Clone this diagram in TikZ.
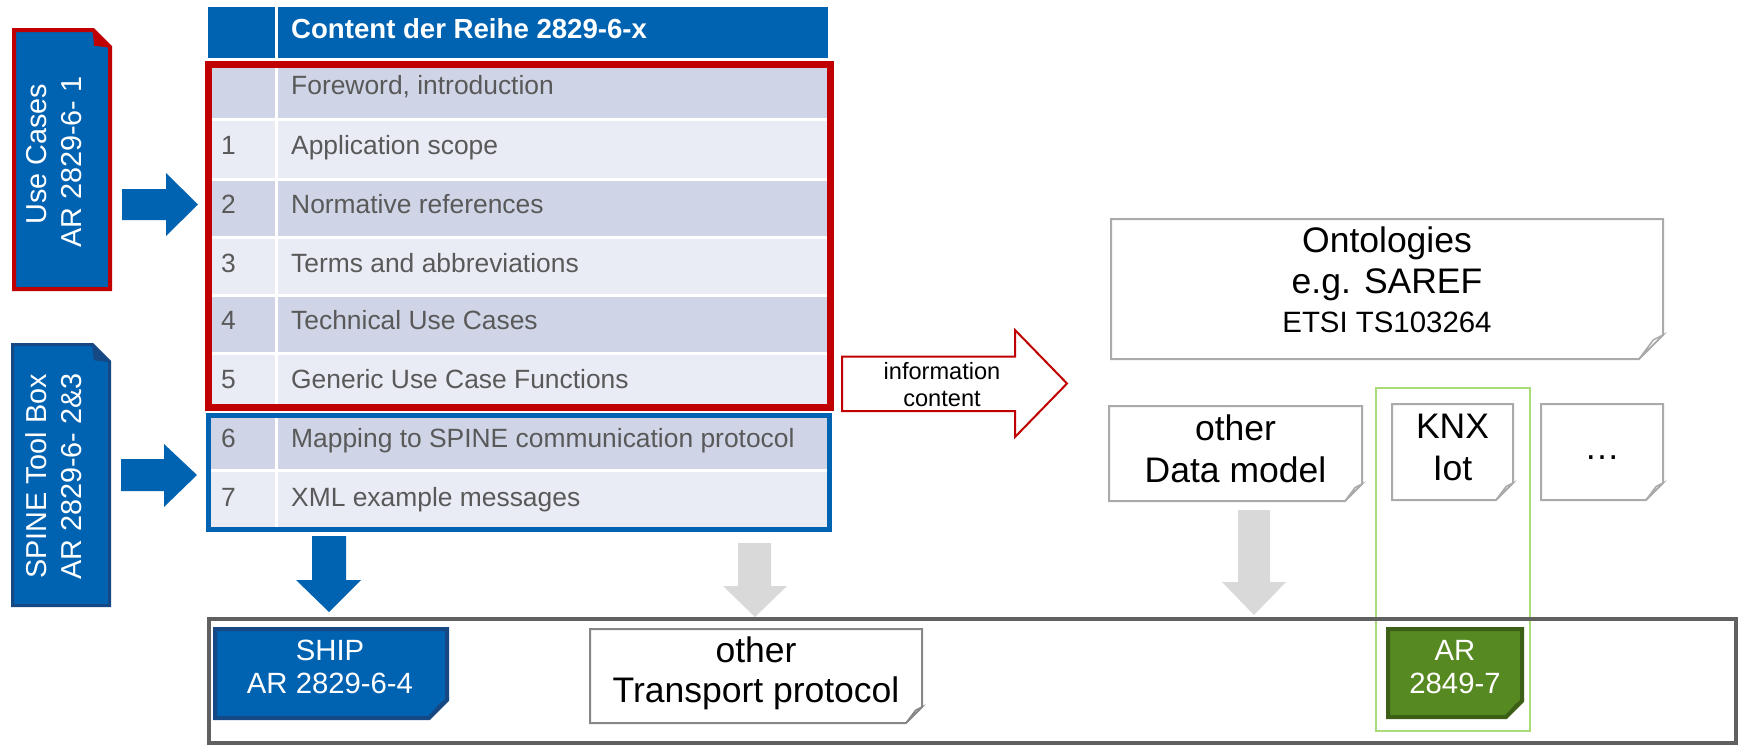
\documentclass[tikz,border=0pt]{standalone}
\usepackage{fontspec}
\setmainfont{Liberation Sans}
\definecolor{cblue}{RGB}{0,99,178}
\definecolor{cdblue}{RGB}{22,72,132}
\definecolor{cred}{RGB}{192,0,0}
\definecolor{rowdark}{RGB}{207,213,230}
\definecolor{rowlight}{RGB}{233,236,245}
\definecolor{tgray}{RGB}{89,89,89}
\definecolor{agray}{RGB}{217,217,217}
\definecolor{bgray}{RGB}{170,170,170}
\definecolor{tbgray}{RGB}{135,135,135}
\definecolor{fgray}{RGB}{96,96,96}
\definecolor{cgreen}{RGB}{87,137,34}
\definecolor{cdgreen}{RGB}{60,95,22}
\definecolor{lgreen}{RGB}{169,219,120}
\newcommand\fbig{\fontsize{35.5}{41}\selectfont}
\newcommand\fbigb{\fontsize{35.5}{42}\selectfont}
\newcommand\fbigc{\fontsize{35.5}{40}\selectfont}
\newcommand\fmid{\fontsize{29.3}{33}\selectfont}
\newcommand\fside{\fontsize{28.8}{35}\selectfont}
\newcommand\fetsi{\fontsize{29.4}{34}\selectfont}
\newcommand\ftab{\fontsize{26.4}{31}\selectfont}
\newcommand\fhead{\fontsize{27.6}{31}\selectfont}
\newcommand\fsmall{\fontsize{23.6}{27}\selectfont}
% note with folded bottom-right corner: x1 y1 x2 y2 c style
\newcommand\notebr[6]{\draw[#6] (#1,#2) -- (#3,#2) -- (#3,#4-#5) -- (#3-#5,#4) -- (#1,#4) -- cycle;}
\newcommand\foldbr[6]{\draw[#6] (#3,#4-#5) -- (#3-#5,#4) -- (#3-0.4*#5,#4-0.8*#5) -- cycle;}
% note with folded top-right corner
\newcommand\notetr[6]{\draw[#6] (#1,#2) -- (#3-#5,#2) -- (#3,#2+#5) -- (#3,#4) -- (#1,#4) -- cycle;}
\newcommand\foldtr[6]{\draw[#6] (#3-#5,#2) -- (#3,#2+#5) -- (#3-0.9*#5,#2+0.9*#5) -- cycle;}
\tikzset{
  txt/.style={inner sep=0pt, align=center},
  rowtxt/.style={anchor=base west, inner sep=0pt, text=tgray, font=\ftab},
  sep/.style={white, line width=3},
}
\begin{document}
\begin{tikzpicture}[x=1pt,y=-1pt,line join=miter]
\useasboundingbox (0,0) rectangle (1739,745);

% ---------- left side notes ----------
\notetr{14}{30}{110}{289}{17}{fill=cblue, draw=cred, line width=4}
\foldtr{14}{30}{110}{289}{17}{fill=cred, draw=cred, line width=1}
\node[txt, rotate=90, text=white, font=\fside] (uc) at (57.4,162) {\strut\hspace*{16pt}Use Cases\\\strut AR 2829-6- 1};

\notetr{12.5}{344.5}{109.5}{605.5}{17}{fill=cblue, draw=cdblue, line width=3}
\foldtr{12.5}{344.5}{109.5}{605.5}{17}{fill=cdblue, draw=cdblue, line width=1}
\node[txt, rotate=90, text=white, font=\fside] (spine) at (57.4,476.5) {\strut SPINE Tool Box\\\strut AR 2829-6- 2\&3};

% blue block arrows to the table
\fill[cblue] (122,189) -- (166,189) -- (166,173) -- (198,204.5) -- (166,236) -- (166,220) -- (122,220) -- cycle;
\fill[cblue] (121,459) -- (164,459) -- (164,444) -- (197,475) -- (164,507) -- (164,491) -- (121,491) -- cycle;

% ---------- table ----------
\fill[cblue] (207.5,6.5) rectangle (828,58);
\draw[sep, line width=3.5] (276.5,6.5) -- (276.5,58);
\node[anchor=base west, inner sep=0pt, text=white, font=\fhead\bfseries] (hd) at (291,38.6) {Content der Reihe 2829-6-x};

\fill[rowdark]  (208.5,64.5) rectangle (830.5,119);
\fill[rowlight] (208.5,119) rectangle (830.5,179);
\fill[rowdark]  (208.5,179) rectangle (830.5,237);
\fill[rowlight] (208.5,237) rectangle (830.5,295);
\fill[rowdark]  (208.5,295) rectangle (830.5,353);
\fill[rowlight] (208.5,353) rectangle (830.5,407.5);
\foreach \yy in {119,179,237,295,353} \draw[sep] (208.5,\yy) -- (830.5,\yy);
\draw[sep] (276.5,64.5) -- (276.5,407.5);
\draw[cred, line width=7] (208.5,64.5) rectangle (830.5,407.5);

\fill[rowdark]  (208.5,415.5) rectangle (829.5,470);
\fill[rowlight] (208.5,470) rectangle (829.5,529.5);
\draw[sep] (208.5,470) -- (829.5,470);
\draw[sep] (276.5,415.5) -- (276.5,529.5);
\draw[cblue, line width=5] (208.5,415.5) rectangle (829.5,529.5);

\node[rowtxt] (t0) at (291,94.5) {Foreword, introduction};
\node[rowtxt] (n1) at (221,154.5) {1};
\node[rowtxt] (t1) at (291,154.5) {Application scope};
\node[rowtxt] (n2) at (221,213.5) {2};
\node[rowtxt] (t2) at (291,213.5) {Normative references};
\node[rowtxt] (n3) at (221,272.5) {3};
\node[rowtxt] (t3) at (291,272.5) {Terms and abbreviations};
\node[rowtxt] (n4) at (221,329.5) {4};
\node[rowtxt] (t4) at (291,329.5) {Technical Use Cases};
\node[rowtxt] (n5) at (221,388.5) {5};
\node[rowtxt] (t5) at (291,388.5) {Generic Use Case Functions};
\node[rowtxt] (n6) at (221,447.5) {6};
\node[rowtxt] (t6) at (291,447.5) {Mapping to SPINE communication protocol};
\node[rowtxt] (n7) at (221,506.5) {7};
\node[rowtxt] (t7) at (291,506.5) {XML example messages};

% ---------- information content arrow ----------
\draw[cred, fill=white, line width=2] (842,356.5) -- (1015,356.5) -- (1015,330) -- (1067,383.5) -- (1015,437) -- (1015,411) -- (842,411) -- cycle;
\node[txt, font=\fsmall] (info) at (942,387.5) {\strut information\\\strut content};

% ---------- right side notes ----------
\draw[lgreen, line width=2] (1376,388) rectangle (1530,731);

\notebr{1111}{219}{1663}{359}{24}{fill=white, draw=bgray, line width=2}
\foldbr{1111}{219}{1663}{359}{24}{fill=white, draw=bgray, line width=1.5}
\node[txt, font=\fbig] (onto) at (1387,265) {\strut Ontologies\\\strut e.g. SAREF};
\node[anchor=base, inner sep=0pt, font=\fetsi] (etsi) at (1387,332) {ETSI TS103264};

\notebr{1109}{406}{1362}{501}{17}{fill=white, draw=bgray, line width=2}
\foldbr{1109}{406}{1362}{501}{17}{fill=white, draw=bgray, line width=1.5}
\node[txt, font=\fbigb] (odm) at (1235.5,453) {\strut other\\\strut Data model};

\notebr{1392}{404}{1513}{500}{17}{fill=white, draw=bgray, line width=2}
\foldbr{1392}{404}{1513}{500}{17}{fill=white, draw=bgray, line width=1.5}
\node[txt, font=\fbigb] (knx) at (1452.5,451.5) {\strut KNX\\\strut Iot};

\notebr{1541}{404}{1663}{500}{17}{fill=white, draw=bgray, line width=2}
\foldbr{1541}{404}{1663}{500}{17}{fill=white, draw=bgray, line width=1.5}
\node[anchor=base, inner sep=0pt, font=\fbig] (dots) at (1602,459) {…};

% ---------- down arrows ----------
\fill[cblue] (312,536) -- (346,536) -- (346,580) -- (361,580) -- (329,612) -- (296,580) -- (312,580) -- cycle;
\fill[agray] (738,543) -- (771,543) -- (771,586) -- (787,586) -- (755,617) -- (723,586) -- (738,586) -- cycle;
\fill[agray] (1238,510) -- (1270,510) -- (1270,582) -- (1286,582) -- (1254,615) -- (1222,582) -- (1238,582) -- cycle;

% ---------- bottom frame ----------
\draw[fgray, line width=3.5] (209,619) rectangle (1736,743);

\notebr{215}{629}{447}{718}{18}{fill=cblue, draw=cdblue, line width=4}
\foldbr{215}{629}{447}{718}{18}{fill=cdblue, draw=cdblue, line width=1}
\node[txt, text=white, font=\fmid] (ship) at (330,670.4) {\strut SHIP\\\strut AR 2829-6-4};

\notebr{590}{629}{922}{723}{16}{fill=white, draw=tbgray, line width=2}
\foldbr{590}{629}{922}{723}{16}{fill=white, draw=tbgray, line width=1.5}
\node[txt, font=\fbigc] (tp) at (756,674.7) {\strut other\\\strut Transport protocol};

\notebr{1388}{629}{1522}{717}{16}{fill=cgreen, draw=cdgreen, line width=4}
\foldbr{1388}{629}{1522}{717}{16}{fill=cdgreen, draw=cdgreen, line width=1}
\node[txt, text=white, font=\fmid] (ar) at (1455,670.4) {\strut AR\\\strut 2849-7};
\end{tikzpicture}
\end{document}
